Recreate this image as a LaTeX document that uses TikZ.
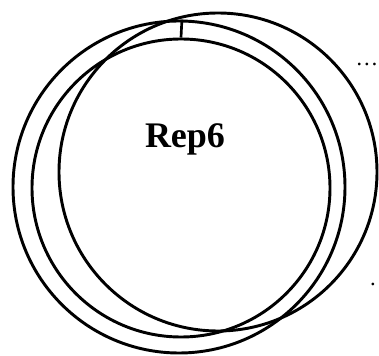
\documentclass[tikz,border=0pt]{standalone}
\usepackage{fontspec}
\setmainfont{Liberation Serif}
\usetikzlibrary{positioning}

\begin{document}
\begin{tikzpicture}[x=0.75pt,y=-0.75pt,
    ring/.style={draw, circle, line width=2.2pt, inner sep=0pt},
  ]
  \useasboundingbox (0,0) rectangle (379,356);
  % rings, sizes are diameters in px
  \node[ring, minimum size=332*0.75pt] (outer) at (179,187) {};
  \node[ring, minimum size=298*0.75pt] (inner) at (181,188) {};
  \node[ring, minimum size=318*0.75pt] (shift) at (218,172) {};
  \node[font=\bfseries\fontsize{27}{30}\selectfont, anchor=base] (name) at (185,148) {Rep6};
  % short tick between the two rings
  \draw[line width=2pt] (outer.89.6) -- (inner.90.4);
  % cut-off text at the edge
  \node[font=\fontsize{17}{20}\selectfont, inner sep=0pt, anchor=base] (dots) at (367,66) {\ldots};
  \node[font=\fontsize{17}{20}\selectfont, inner sep=0pt, anchor=base] (dot) at (373,286) {.};
\end{tikzpicture}
\end{document}
